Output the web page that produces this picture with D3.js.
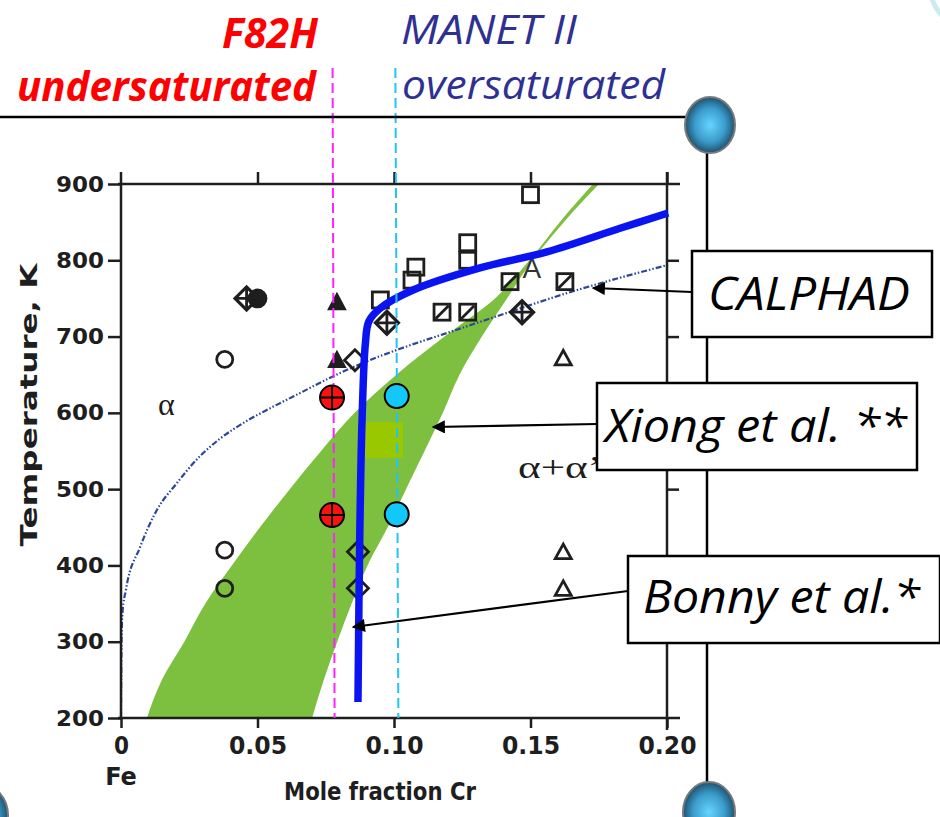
<!DOCTYPE html>
<html>
<head>
<meta charset="utf-8">
<script src="https://cdn.jsdelivr.net/npm/d3@7"></script>
<style>
  body { margin: 0; background: #fff; }
  svg { display: block; }
</style>
</head>
<body>
<div id="chart"></div>
<script>
// axis ticks
const xTicks = [0, 0.05, 0.10, 0.15, 0.20];
const xTickLabels = ["0", "0.05", "0.10", "0.15", "0.20"];
const yTicks = [200, 300, 400, 500, 600, 700, 800, 900];

// curves: [mole fraction Cr, temperature K]
const calphadCurve = [[0, 200], [0.0002, 302], [0.00055, 338], [0.0018, 368], [0.0070, 424], [0.0132, 473],
  [0.0205, 508], [0.0275, 538], [0.0355, 564], [0.0454, 588], [0.0546, 606], [0.0656, 626], [0.0766, 646],
  [0.0857, 661], [0.1022, 684], [0.1205, 706], [0.1388, 728], [0.1634, 757], [0.2004, 794]];
const bonnyCurve = [[0.0868, 221], [0.0875, 450], [0.0883, 591], [0.0895, 690], [0.0908, 720], [0.0949, 737],
  [0.1070, 761], [0.1315, 790], [0.156, 811], [0.1828, 842], [0.2004, 862]];
// Xiong et al. band: Cr limits at each temperature
const xiongTemps = [200, 250, 300, 350, 400, 450, 500, 550, 600, 650, 700, 750, 800, 850, 900];
const xiongLowCr = [0.0095, 0.0150, 0.0232, 0.0309, 0.0406, 0.0509, 0.0618, 0.0733, 0.0856, 0.1009, 0.1185,
  0.1370, 0.1496, 0.1607, 0.1729];
const xiongHighCr = [0.0700, 0.0743, 0.0792, 0.0845, 0.0903, 0.0977, 0.1044, 0.1112, 0.1179, 0.1240, 0.1322,
  0.1414, 0.1507, 0.1622, 0.1751];
const limeRect = [[0.0894, 588], [0.1033, 541]];

// experimental points
const openCircles = [[0.038, 670], [0.038, 420], [0.038, 370]];
const filledCircles = [[0.050, 750]];
const openSquares = [[0.150, 886], [0.127, 823], [0.127, 800], [0.108, 791], [0.1066, 774], [0.095, 748]];
const slashSquares = [[0.1425, 772], [0.1626, 772], [0.1176, 732], [0.127, 732]];
const crossDiamonds = [[0.046, 750], [0.0974, 718], [0.1469, 732]];
const openDiamonds = [[0.0857, 669], [0.0868, 418], [0.0868, 370]];
const filledTriangles = [[0.0791, 745], [0.0791, 669]];
const openTriangles = [[0.162, 672], [0.162, 418], [0.162, 370]];
const letterPoints = [[0.1505, 790, "A"]];
const f82hPoints = [[0.0773, 620], [0.0773, 466]];
const manetPoints = [[0.101, 622], [0.101, 467]];
const f82hCr = 0.0775;
const manetCr = 0.1005;

const W = 940, H = 817;
const svg = d3.select("#chart").append("svg").attr("width", W).attr("height", H);

const defs = svg.append("defs");
const grad = defs.append("radialGradient").attr("id", "ball").attr("cx", "50%").attr("cy", "50%").attr("r", "55%");
grad.append("stop").attr("offset", "0%").attr("stop-color", "#66d4ff");
grad.append("stop").attr("offset", "55%").attr("stop-color", "#3b9ccc");
grad.append("stop").attr("offset", "100%").attr("stop-color", "#173f56");
defs.append("marker").attr("id", "arrow").attr("viewBox", "0 0 10 10")
  .attr("refX", 9).attr("refY", 5).attr("markerWidth", 7).attr("markerHeight", 6)
  .attr("markerUnits", "strokeWidth").attr("orient", "auto")
  .append("path").attr("d", "M0,0 L10,5 L0,10 z").attr("fill", "#000");

const x = d3.scaleLinear().domain([0, 0.2]).range([121, 667]);
const y = d3.scaleLinear().domain([200, 900]).range([718, 184]);

const ink = "#1e1e1e";

// Xiong band
svg.append("path")
  .datum(xiongTemps)
  .attr("d", d3.area().y(d => y(d))
    .x0((d, i) => x(xiongLowCr[i])).x1((d, i) => x(xiongHighCr[i]))
    .curve(d3.curveMonotoneY))
  .attr("fill", "#7dbf3f");
svg.append("rect").attr("x", x(limeRect[0][0])).attr("y", y(limeRect[0][1]))
  .attr("width", x(limeRect[1][0]) - x(limeRect[0][0])).attr("height", y(limeRect[1][1]) - y(limeRect[0][1]))
  .attr("fill", "#99c800");

// CALPHAD
svg.append("path")
  .attr("d", d3.line().x(d => x(d[0])).y(d => y(d[1])).curve(d3.curveMonotoneX)(calphadCurve))
  .attr("fill", "none").attr("stroke", "#2c4797").attr("stroke-width", 2.2)
  .attr("stroke-dasharray", "6,2,1.5,2,1.5,2");

// frame and axes
const frame = svg.append("g").attr("stroke", ink).attr("stroke-width", 2.5);
frame.append("line").attr("x1", 118).attr("x2", 680).attr("y1", y(900)).attr("y2", y(900));
frame.append("line").attr("x1", 118).attr("x2", 680).attr("y1", y(200)).attr("y2", y(200));
frame.append("line").attr("x1", x(0)).attr("x2", x(0)).attr("y1", 172).attr("y2", y(200));
frame.append("line").attr("x1", x(0.2)).attr("x2", x(0.2)).attr("y1", 172).attr("y2", 730);

const gy = svg.append("g").attr("transform", `translate(${x(0)},0)`)
  .call(d3.axisLeft(y).tickValues(yTicks).tickSize(13).tickPadding(4).tickFormat(d3.format("d")));
const gx = svg.append("g").attr("transform", `translate(0,${y(200)})`)
  .call(d3.axisBottom(x).tickValues(xTicks).tickSize(10).tickPadding(9).tickFormat((d, i) => xTickLabels[i]));
const gt = svg.append("g").attr("transform", `translate(0,${y(900)})`)
  .call(d3.axisTop(x).tickValues(xTicks.slice(1)).tickSize(12).tickFormat(""));
const gr = svg.append("g").attr("transform", `translate(${x(0.2)},0)`)
  .call(d3.axisRight(y).tickValues(yTicks.slice(1, 7)).tickSize(12).tickFormat(""));
[gy, gx, gt, gr].forEach(g => {
  g.select(".domain").remove();
  g.selectAll(".tick line").attr("stroke", ink).attr("stroke-width", 2.5);
});
gy.selectAll("text").attr("font-family", "DejaVu Sans").attr("font-weight", "bold")
  .attr("font-size", 22).attr("fill", ink).attr("textLength", 48).attr("lengthAdjust", "spacingAndGlyphs");
gx.selectAll("text").attr("font-family", "DejaVu Sans").attr("font-weight", "bold")
  .attr("font-size", 24).attr("fill", ink)
  .attr("textLength", (d, i) => i === 0 ? 15 : 58).attr("lengthAdjust", "spacingAndGlyphs");

svg.append("text").attr("x", x(0)).attr("y", 785).attr("text-anchor", "middle")
  .attr("font-family", "DejaVu Sans").attr("font-weight", "bold").attr("font-size", 24).attr("fill", ink)
  .text("Fe");
svg.append("text").attr("x", 380).attr("y", 800).attr("text-anchor", "middle")
  .attr("font-family", "DejaVu Sans").attr("font-weight", "bold").attr("font-size", 25).attr("fill", ink)
  .attr("textLength", 192).attr("lengthAdjust", "spacingAndGlyphs")
  .text("Mole fraction Cr");
svg.append("text").attr("transform", "translate(37,405) rotate(-90)").attr("text-anchor", "middle")
  .attr("font-family", "DejaVu Sans").attr("font-weight", "bold").attr("font-size", 23).attr("fill", ink)
  .attr("textLength", 283).attr("lengthAdjust", "spacingAndGlyphs")
  .text("Temperature, K");

// phase labels
svg.append("text").attr("x", 158).attr("y", 415).attr("font-family", "Liberation Serif")
  .attr("font-size", 32).attr("fill", ink).text("α");
svg.append("text").attr("x", 518).attr("y", 478).attr("font-family", "Liberation Serif")
  .attr("font-size", 32).attr("fill", ink).attr("textLength", 84).attr("lengthAdjust", "spacingAndGlyphs")
  .text("α+α’");

// markers
const pts = svg.append("g").attr("fill", "none").attr("stroke", ink).attr("stroke-width", 2.8);
pts.selectAll(".oc").data(openCircles).join("circle")
  .attr("cx", d => x(d[0])).attr("cy", d => y(d[1])).attr("r", 8);
pts.selectAll(".fc").data(filledCircles).join("circle")
  .attr("cx", d => x(d[0])).attr("cy", d => y(d[1])).attr("r", 8.5).attr("fill", ink);
pts.selectAll(".os").data(openSquares).join("rect")
  .attr("x", d => x(d[0]) - 8).attr("y", d => y(d[1]) - 8).attr("width", 16).attr("height", 16);
const ss = pts.selectAll(".ss").data(slashSquares).join("g")
  .attr("transform", d => `translate(${x(d[0])},${y(d[1])})`);
ss.append("rect").attr("x", -8).attr("y", -8).attr("width", 16).attr("height", 16);
ss.append("line").attr("x1", -6.5).attr("y1", 6.5).attr("x2", 6.5).attr("y2", -6.5);
const cd = pts.selectAll(".cd").data(crossDiamonds).join("g")
  .attr("transform", d => `translate(${x(d[0])},${y(d[1])})`);
cd.append("path").attr("d", "M-11.5,0 L0,-11.5 L11.5,0 L0,11.5 Z").attr("stroke-width", 3.2);
cd.append("path").attr("d", "M-11,0 H11 M0,-11 V11");
pts.selectAll(".od").data(openDiamonds).join("path")
  .attr("transform", d => `translate(${x(d[0])},${y(d[1])})`)
  .attr("d", "M-10.5,0 L0,-10.5 L10.5,0 L0,10.5 Z");
pts.selectAll(".ft").data(filledTriangles).join("path")
  .attr("transform", d => `translate(${x(d[0])},${y(d[1])})`)
  .attr("d", "M-7.5,6.5 L0,-7.5 L7.5,6.5 Z").attr("fill", ink);
pts.selectAll(".ot").data(openTriangles).join("path")
  .attr("transform", d => `translate(${x(d[0])},${y(d[1])})`)
  .attr("d", "M-8,7 L0,-7.5 L8,7 Z");
svg.selectAll(".lt").data(letterPoints).join("text")
  .attr("x", d => x(d[0])).attr("y", d => y(d[1]) + 10).attr("text-anchor", "middle")
  .attr("font-family", "Liberation Sans").attr("font-size", 28).attr("fill", "#333").text(d => d[2]);

// Bonny et al.
svg.append("path")
  .attr("d", d3.line().x(d => x(d[0])).y(d => y(d[1])).curve(d3.curveCatmullRom.alpha(0.5))(bonnyCurve))
  .attr("fill", "none").attr("stroke", "#0a14f0").attr("stroke-width", 7.5);

// steel compositions
svg.append("line").attr("x1", x(f82hCr)).attr("x2", x(f82hCr) + 2).attr("y1", 68).attr("y2", y(200))
  .attr("stroke", "#ff22ff").attr("stroke-width", 2).attr("stroke-dasharray", "10,5");
svg.append("line").attr("x1", x(manetCr)).attr("x2", x(manetCr) + 3).attr("y1", 68).attr("y2", y(200))
  .attr("stroke", "#22c4f4").attr("stroke-width", 2).attr("stroke-dasharray", "10,5");
const fp = svg.selectAll(".fp").data(f82hPoints).join("g")
  .attr("transform", d => `translate(${x(d[0])},${y(d[1])})`);
fp.append("circle").attr("r", 12).attr("fill", "#ff1010").attr("stroke", "#000").attr("stroke-width", 2);
fp.append("path").attr("d", "M-12,0 H12 M0,-12 V12").attr("stroke", "#000").attr("stroke-width", 2);
svg.selectAll(".mp").data(manetPoints).join("circle")
  .attr("cx", d => x(d[0])).attr("cy", d => y(d[1])).attr("r", 12)
  .attr("fill", "#11c8f8").attr("stroke", "#000").attr("stroke-width", 2);

// slide decoration
svg.append("line").attr("x1", 0).attr("x2", 690).attr("y1", 117).attr("y2", 117).attr("stroke", "#000").attr("stroke-width", 2.5);
svg.append("line").attr("x1", 707).attr("x2", 707).attr("y1", 150).attr("y2", 790).attr("stroke", "#000").attr("stroke-width", 2.5);
svg.append("ellipse").attr("cx", 710).attr("cy", 125).attr("rx", 25).attr("ry", 28)
  .attr("fill", "url(#ball)").attr("stroke", "#7a7a7a").attr("stroke-width", 2);
svg.append("ellipse").attr("cx", 709).attr("cy", 812).attr("rx", 26).attr("ry", 30)
  .attr("fill", "url(#ball)").attr("stroke", "#7a7a7a").attr("stroke-width", 2);
svg.append("ellipse").attr("cx", -18).attr("cy", 815).attr("rx", 26).attr("ry", 30)
  .attr("fill", "url(#ball)").attr("stroke", "#7a7a7a").attr("stroke-width", 2);
svg.append("ellipse").attr("cx", 975).attr("cy", -15).attr("rx", 45).attr("ry", 45)
  .attr("fill", "none").attr("stroke", "#cfe9f0").attr("stroke-width", 5);

// titles
const title = (t, xx, yy, len, fill, bold) => svg.append("text")
  .attr("x", xx).attr("y", yy).attr("font-family", "Open Sans").attr("font-style", "italic")
  .attr("font-weight", bold ? "bold" : "normal").attr("font-size", 41).attr("fill", fill)
  .attr("textLength", len).attr("lengthAdjust", "spacingAndGlyphs").text(t);
title("F82H", 222, 48, 96, "#ff0000", true);
title("undersaturated", 17, 101, 299, "#ff0000", true);
title("MANET II", 401, 44, 176, "#2e3192", false);
title("oversaturated", 402, 99, 263, "#2e3192", false);

// callout boxes
const callouts = [
  { text: "CALPHAD", box: [692, 251, 240, 86], base: 310, tx: 708, len: 202, from: [692, 292], to: [593, 288] },
  { text: "Xiong et al. **", box: [597, 383, 320, 87], base: 442, tx: 605, len: 302, from: [597, 424], to: [433, 427] },
  { text: "Bonny et al.*", box: [628, 556, 312, 87], base: 613, tx: 643, len: 277, from: [628, 591], to: [353, 627] }
];
callouts.forEach(c => {
  svg.append("line").attr("x1", c.from[0]).attr("y1", c.from[1]).attr("x2", c.to[0]).attr("y2", c.to[1])
    .attr("stroke", "#000").attr("stroke-width", 2.2).attr("marker-end", "url(#arrow)");
  svg.append("rect").attr("x", c.box[0]).attr("y", c.box[1]).attr("width", c.box[2]).attr("height", c.box[3])
    .attr("fill", "#fff").attr("stroke", "#000").attr("stroke-width", 2.5);
  svg.append("text").attr("x", c.tx).attr("y", c.base).attr("font-family", "Open Sans").attr("font-style", "italic")
    .attr("font-size", 45).attr("fill", "#000").attr("textLength", c.len).attr("lengthAdjust", "spacingAndGlyphs")
    .text(c.text);
});
</script>
</body>
</html>
